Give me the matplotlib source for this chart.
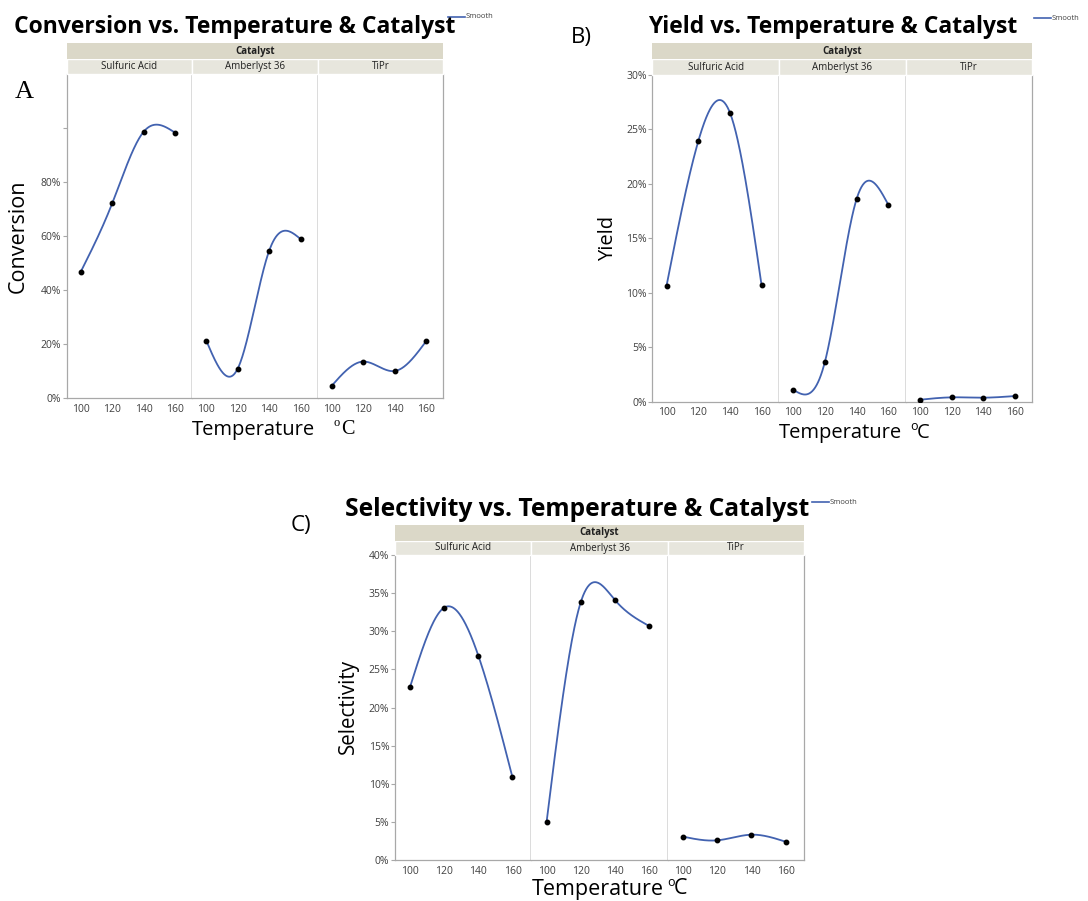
import matplotlib
matplotlib.use("Agg")
import matplotlib.pyplot as plt
from matplotlib.patches import Rectangle
from matplotlib.lines import Line2D
import numpy as np

plt.rcParams['font.family'] = ['Open Sans', 'DejaVu Sans']

# Data (fractions)
temps = [100, 120, 140, 160]
catalysts = ["Sulfuric Acid", "Amberlyst 36", "TiPr"]

conversion = [
    [0.469, 0.722, 0.987, 0.984],   # Sulfuric Acid
    [0.213, 0.110, 0.546, 0.590],   # Amberlyst 36
    [0.047, 0.136, 0.101, 0.211],   # TiPr
]
yield_ = [
    [0.1065, 0.239, 0.2655, 0.107],
    [0.011, 0.0365, 0.186, 0.181],
    [0.0018, 0.004, 0.0037, 0.0052],
]
selectivity = [
    [0.227, 0.331, 0.268, 0.1085],
    [0.050, 0.338, 0.341, 0.307],
    [0.0306, 0.0258, 0.0332, 0.024],
]

W, H = 1088, 901
LINE_C = "#4262b0"
GRID_C = "#a8a8a8"
DIV_C = "#d2d2d2"
TXT_C = "#404040"


def natural_spline(x, y, n=200):
    x = np.asarray(x, float)
    y = np.asarray(y, float)
    h = np.diff(x)
    nn = len(x)
    A = np.zeros((nn, nn))
    b = np.zeros(nn)
    A[0, 0] = A[-1, -1] = 1
    for i in range(1, nn - 1):
        A[i, i - 1] = h[i - 1]
        A[i, i] = 2 * (h[i - 1] + h[i])
        A[i, i + 1] = h[i]
        b[i] = 6 * ((y[i + 1] - y[i]) / h[i] - (y[i] - y[i - 1]) / h[i - 1])
    M = np.linalg.solve(A, b)
    xs = np.linspace(x[0], x[-1], n)
    idx = np.clip(np.searchsorted(x, xs) - 1, 0, nn - 2)
    x0, x1 = x[idx], x[idx + 1]
    hh = x1 - x0
    ys = (M[idx] * (x1 - xs) ** 3 / (6 * hh) + M[idx + 1] * (xs - x0) ** 3 / (6 * hh)
          + (y[idx] / hh - M[idx] * hh / 6) * (x1 - xs)
          + (y[idx + 1] / hh - M[idx + 1] * hh / 6) * (xs - x0))
    return xs, ys


def fx(x):
    return x / W


def fy(y):
    return 1 - y / H


fig = plt.figure(figsize=(W / 100, H / 100), dpi=100)


def panel(values, box, ylim, yticks, ylabels, title, title_xy, ylabel, ylabel_xy,
          xlabel_xy, unit_serif, smooth_xy, letter, letter_xy, letter_serif, strip_top,
          title_fs=16.5, label_fs=14.5, ylabel_fs=14.5):
    x0, x1, ytop, ybot = box
    fw = (x1 - x0) / 3
    for k, cat in enumerate(catalysts):
        ax = fig.add_axes([fx(x0 + k * fw), fy(ybot), fw / W, (ybot - ytop) / H])
        xs, ys = natural_spline(temps, values[k])
        ax.plot(xs, ys, color=LINE_C, lw=1.3, zorder=2)
        ax.plot(temps, values[k], 'o', color='black', ms=3.2, zorder=3)
        ax.set_xlim(91, 171)
        ax.set_ylim(*ylim)
        ax.set_xticks(temps)
        ax.tick_params(axis='x', length=0, labelsize=7.5, labelcolor=TXT_C, pad=4)
        ax.spines['top'].set_visible(False)
        for s in ['left', 'right', 'bottom']:
            ax.spines[s].set_color(GRID_C)
            ax.spines[s].set_linewidth(0.9)
        if k == 0:
            ax.set_yticks(yticks)
            ax.set_yticklabels(ylabels)
            ax.tick_params(axis='y', length=3, color=GRID_C, labelsize=7.5,
                           labelcolor=TXT_C, pad=1)
        else:
            ax.spines['left'].set_visible(False)
            ax.set_yticks([])
        if k < 2:
            ax.spines['right'].set_color(DIV_C)
            ax.spines['right'].set_linewidth(1.1)
        # facet label strip
        fig.patches.append(Rectangle((fx(x0 + k * fw), fy(ytop)), fw / W, (ytop - strip_top - 16) / H,
                                     transform=fig.transFigure, facecolor="#e7e6dd",
                                     edgecolor="white", lw=1))
        fig.text(fx(x0 + (k + 0.5) * fw), fy((ytop + strip_top + 16) / 2), cat,
                 ha='center', va='center', fontsize=7, color='#202020')
    # "Catalyst" header strip
    fig.patches.append(Rectangle((fx(x0), fy(strip_top + 16)), (x1 - x0) / W, 16 / H,
                                 transform=fig.transFigure, facecolor="#dbd8c8",
                                 edgecolor='none'))
    fig.text(fx((x0 + x1) / 2), fy(strip_top + 8), "Catalyst", ha='center', va='center',
             fontsize=7, fontweight='bold', color='#202020')
    fig.text(fx(title_xy[0]), fy(title_xy[1]), title, ha='left', va='center',
             fontsize=title_fs, fontweight='bold', color='black')
    fig.text(fx(ylabel_xy[0]), fy(ylabel_xy[1]), ylabel, rotation=90, ha='center',
             va='center', fontsize=ylabel_fs, color='black')
    fig.text(fx(xlabel_xy[0]), fy(xlabel_xy[1]), "Temperature", ha='left', va='center',
             fontsize=label_fs, color='black')
    ux, uy = xlabel_xy[2], xlabel_xy[1]
    fam = 'Liberation Serif' if unit_serif else 'Open Sans'
    fig.text(fx(ux), fy(uy - 7), "o", ha='left', va='center', fontsize=9, family=fam)
    fig.text(fx(ux + 7), fy(uy), "C", ha='left', va='center', fontsize=label_fs, family=fam)
    sx, sy = smooth_xy
    fig.lines.append(Line2D([fx(sx), fx(sx + 17)], [fy(sy), fy(sy)], color=LINE_C, lw=1.2,
                            transform=fig.transFigure))
    fig.text(fx(sx + 18), fy(sy), "Smooth", ha='left', va='center', fontsize=5.5, color=TXT_C)
    fig.text(fx(letter_xy[0]), fy(letter_xy[1]), letter, ha='left', va='center',
             fontsize=19 if letter_serif else 16,
             family='Liberation Serif' if letter_serif else 'Open Sans')


pct = lambda t: [f"{int(round(v * 100))}%" for v in t]

panel(conversion, (66.7, 443.3, 74.3, 398.3), (0, 1.2), [0, .2, .4, .6, .8, 1.0],
      pct([0, .2, .4, .6, .8]) + [""],
      "Conversion vs. Temperature & Catalyst", (14, 27), "Conversion", (18, 236),
      (192, 430, 334), True, (448, 17), "A", (15, 92), True, 43.3,
      ylabel_fs=15.5)

panel(yield_, (652.3, 1032.3, 75, 401.7), (0, 0.30), np.arange(0, 0.301, 0.05),
      pct(np.arange(0, 0.301, 0.05)),
      "Yield vs. Temperature & Catalyst", (648, 27), "Yield", (608, 238),
      (779, 433, 910), False, (1034, 18), "B)", (571, 37), False, 43.3)

panel(selectivity, (394.7, 804.3, 555, 860), (0, 0.40), np.arange(0, 0.401, 0.05),
      pct(np.arange(0, 0.401, 0.05)),
      "Selectivity vs. Temperature & Catalyst", (345, 510), "Selectivity", (348, 707),
      (532, 889, 667), False, (812, 502), "C)", (291, 525), False, 525,
      title_fs=17.7, label_fs=15.5, ylabel_fs=14.8)

fig.savefig("out.png", dpi=100)
